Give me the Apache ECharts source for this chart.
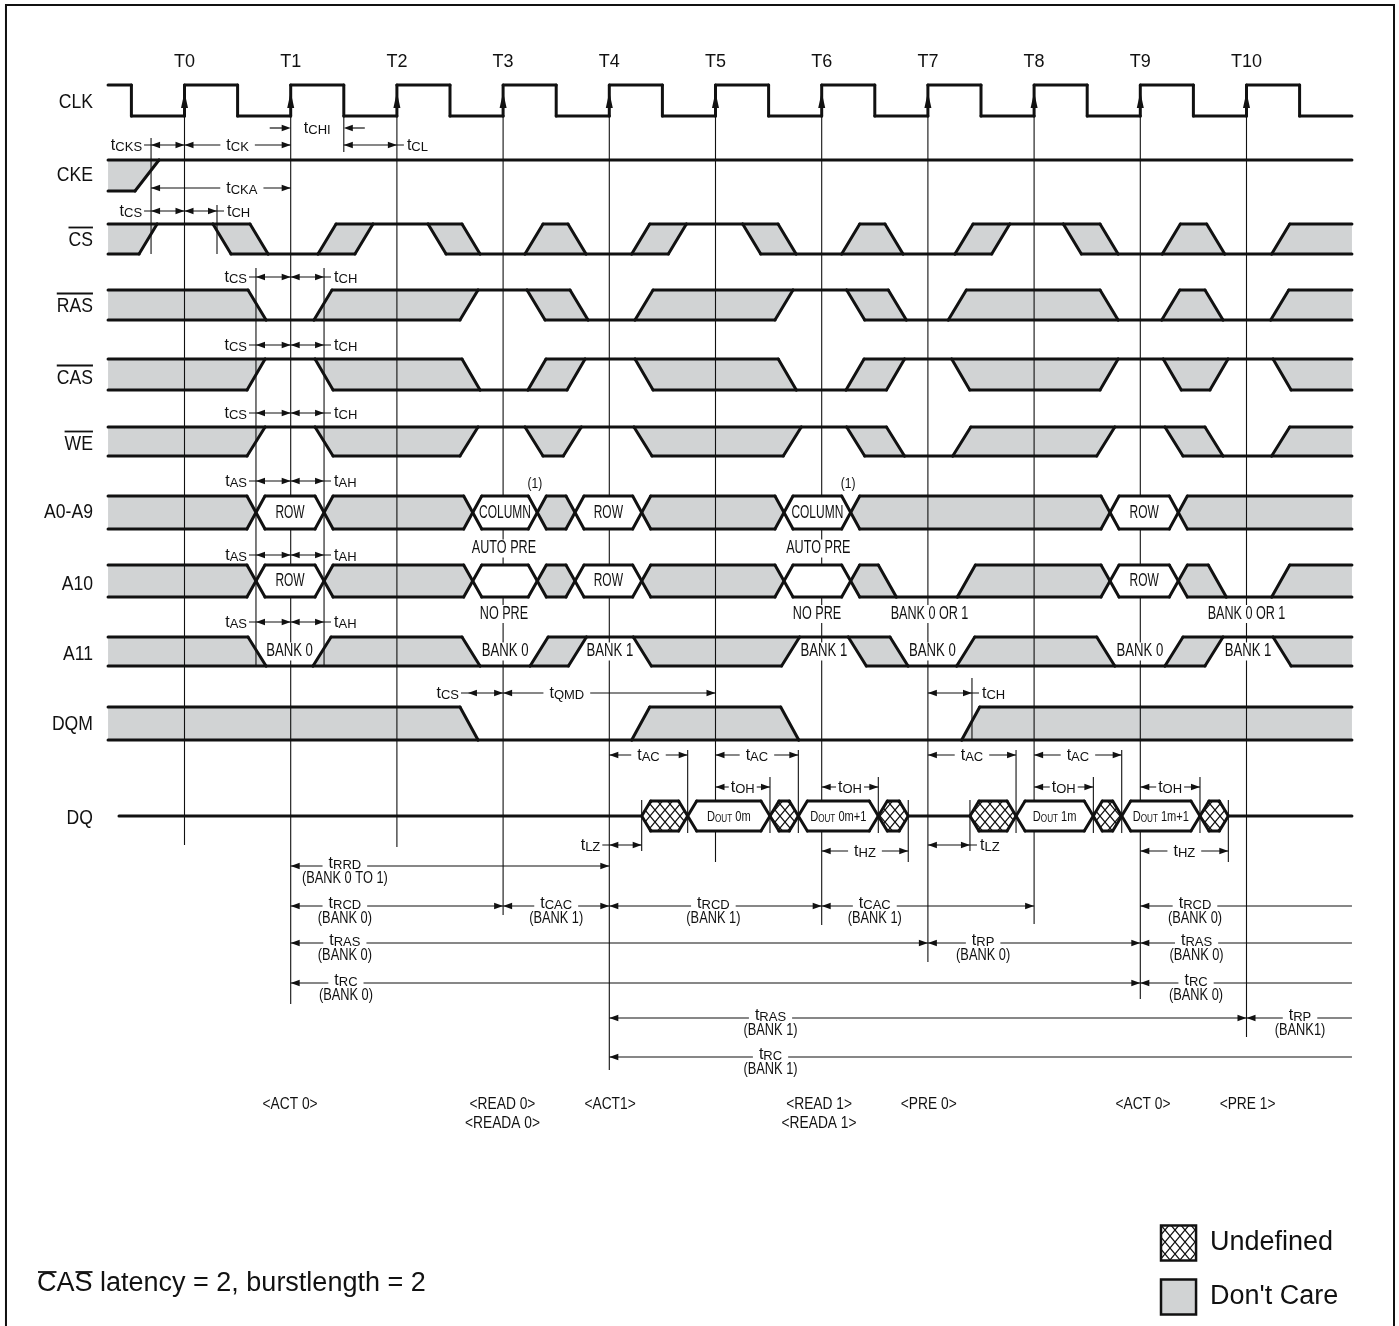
<!DOCTYPE html>
<html>
<head>
<meta charset="utf-8">
<title>Read with auto precharge, two banks</title>
<script src="https://cdn.jsdelivr.net/npm/echarts@6.0.0/dist/echarts.min.js"></script>
<style>
  html, body { margin: 0; padding: 0; background: #fff; }
  #chart { width: 1399px; height: 1326px; }
</style>
</head>
<body>
<div id="chart"></div>
<script>
var FONT = "'Liberation Sans', Arial, Helvetica, sans-serif"
var INK = '#111'
var DONT_CARE = '#d1d3d4'

// x runs in clock periods (T0 = 0), y in rows counted from the top
var X_MIN = -1.7373
var X_MAX = 11.436
var Y_MAX = 1326
var X_START = -0.72
var X_END = 10.993
var NAME_X = -0.862

var clockNames = ['T0', 'T1', 'T2', 'T3', 'T4', 'T5', 'T6', 'T7', 'T8', 'T9', 'T10']
var clockTimes = [0, 1, 2, 3, 4, 5, 6, 7, 8, 9, 10]
var clockGuideEnd = [845, 1004, 847, 915, 1070, 862, 925, 962, 924, 999, 1037]

var signalNames = ['CLK', 'CKE', 'CS', 'RAS', 'CAS', 'WE', 'A0-A9', 'A10', 'A11', 'DQM', 'DQ']
var signalBar = [false, false, true, true, true, true, false, false, false, false, false]
var signalNameY = [102, 175, 240, 306, 378, 444, 512, 584, 654, 724, 818]
var rowHigh = [85, 160, 224, 290, 359, 427, 496, 565, 637, 707, 801]
var rowLow = [116, 191, 254, 320, 390, 456, 529, 597, 666, 740, 831]

// states: H high, L low, X don't care, V valid, U undefined, Z high-z
var clkStates = 'HLHLHLHLHLHLHLHLHLHLHLHL'
var clkTimes = [-0.5, 0, 0.5, 1, 1.5, 2, 2.5, 3, 3.5, 4, 4.5, 5, 5.5, 6, 6.5, 7, 7.5, 8, 8.5, 9, 9.5, 10, 10.5]
var ckeStates = 'XH'
var ckeTimes = [-0.466]
var csStates = 'XHXLXHXLXLXHXLXLXHXLXLX'
var csTimes = [-0.428, 0.268, 0.617, 1.257, 1.605, 2.293, 2.613, 3.206, 3.611, 4.211, 4.556, 5.256, 5.589, 6.188, 6.596, 7.255, 7.601, 8.275, 8.621, 9.207, 9.625, 10.237]
var rasStates = 'XLXHXLXHXLXLXLX'
var rasTimes = [0.598, 1.219, 2.594, 3.225, 3.630, 4.242, 5.560, 6.235, 6.627, 7.192, 8.621, 9.202, 9.609, 10.228]
var casStates = 'XHXLXHXLXHXHXHX'
var casTimes = [0.589, 1.229, 2.613, 3.234, 3.602, 4.242, 5.591, 6.229, 6.610, 7.224, 8.621, 9.216, 9.656, 10.250]
var weStates = 'XHXHXHXHXLXHXLX'
var weTimes = [0.589, 1.229, 2.594, 3.206, 3.567, 4.232, 5.638, 6.235, 6.610, 7.234, 8.590, 9.232, 9.609, 10.237]
var addrStates = 'XVXVXVXVXVX'
var addrTimes = [0.673, 1.314, 2.714, 3.322, 3.677, 4.305, 5.645, 6.273, 8.715, 9.358]
var addrLabels = ['', 'ROW', '', 'COLUMN', '', 'ROW', '', 'COLUMN', '', 'ROW', '']
var a10States = 'XVXVXVXVXLXVXLX'
var a10Times = [0.673, 1.314, 2.714, 3.322, 3.677, 4.305, 5.645, 6.273, 6.533, 7.277, 8.715, 9.358, 9.640, 10.237]
var a10Labels = ['', 'ROW', '', '', '', 'ROW', '', '', '', '', '', 'ROW', '', '', '']
var a11States = 'XLXLXHXHXLXLXHX'
var a11Times = [0.598, 1.210, 2.613, 3.254, 3.615, 4.226, 5.622, 6.250, 6.643, 7.271, 8.590, 9.232, 9.609, 10.250]
var a11Labels = ['', 'BANK 0', '', 'BANK 0', '', 'BANK 1', '', 'BANK 1', '', 'BANK 0', '', 'BANK 0', '', 'BANK 1', '']
var dqmStates = 'XLXLX'
var dqmTimes = [2.594, 4.211, 5.614, 7.318]
var dqStates = 'ZUVUVUZUVUVUZ'
var dqTimes = [4.305, 4.738, 5.513, 5.780, 6.533, 6.815, 7.396, 7.830, 8.557, 8.825, 9.562, 9.829]
var dqLabels = ['', '', 'DOUT 0m', '', 'DOUT 0m+1', '', '', '', 'DOUT 1m', '', 'DOUT 1m+1', '', '']

// thin reference ticks: x, top, bottom
var markerX = [-0.315, 0.306, 1.5, 0.673, 1.314, 7.415, 4.738, 5.780, 5.513, 6.533, 4.305, 6.815, 7.396, 7.830, 8.825, 8.558, 9.562, 9.829]
var markerTop = [138, 205, 116, 268, 268, 678, 750, 750, 777, 777, 800, 800, 800, 750, 750, 777, 777, 800]
var markerBottom = [254, 254, 152, 666, 666, 740, 833, 833, 833, 833, 851, 862, 851, 833, 833, 833, 833, 862]

// [y, from, to, parameter, label side, heads, label x, bank]
var clockDims = [
  [145, -0.315, 0, 'CKS', 'l', 'lr'],
  [145, 0, 1, 'CK', 'm', 'lr'],
  [128, 1, 1.5, 'CHI', 'm', 'in'],
  [145, 1.5, 2, 'CL', 'r', 'lr'],
  [188, -0.315, 1, 'CKA', 'm', 'lr', 0.54],
  [211, -0.315, 0, 'CS', 'l', 'lr'],
  [211, 0, 0.306, 'CH', 'r', 'lr']
]
var setupDims = [
  [277, 0.673, 1, 'CS', 'l', 'lr'], [277, 1, 1.314, 'CH', 'r', 'lr'],
  [345, 0.673, 1, 'CS', 'l', 'lr'], [345, 1, 1.314, 'CH', 'r', 'lr'],
  [413, 0.673, 1, 'CS', 'l', 'lr'], [413, 1, 1.314, 'CH', 'r', 'lr'],
  [481, 0.673, 1, 'AS', 'l', 'lr'], [481, 1, 1.314, 'AH', 'r', 'lr'],
  [555, 0.673, 1, 'AS', 'l', 'lr'], [555, 1, 1.314, 'AH', 'r', 'lr'],
  [622, 0.673, 1, 'AS', 'l', 'lr'], [622, 1, 1.314, 'AH', 'r', 'lr']
]
var dataDims = [
  [693, 2.669, 3, 'CS', 'l', 'lr'],
  [693, 3, 5, 'QMD', 'm', 'lr', 3.6],
  [693, 7, 7.415, 'CH', 'r', 'lr'],
  [755, 4, 4.738, 'AC', 'm', 'lr'],
  [755, 5, 5.780, 'AC', 'm', 'lr'],
  [787, 5, 5.513, 'OH', 'm', 'lr'],
  [787, 6, 6.533, 'OH', 'm', 'lr'],
  [845, 4, 4.305, 'LZ', 'l', 'lr'],
  [851, 6, 6.815, 'HZ', 'm', 'lr'],
  [755, 7, 7.830, 'AC', 'm', 'lr'],
  [755, 8, 8.825, 'AC', 'm', 'lr'],
  [787, 8, 8.558, 'OH', 'm', 'lr'],
  [787, 9, 9.562, 'OH', 'm', 'lr'],
  [845, 7, 7.396, 'LZ', 'r', 'lr'],
  [851, 9, 9.829, 'HZ', 'm', 'lr']
]
var cycleDims = [
  [866, 1, 4, 'RRD', 'm', 'lr', 1.51, '(BANK 0 TO 1)'],
  [906, 1, 3, 'RCD', 'm', 'lr', 1.51, '(BANK 0)'],
  [906, 3, 4, 'CAC', 'm', 'lr', 3.5, '(BANK 1)'],
  [906, 4, 6, 'RCD', 'm', 'lr', 4.98, '(BANK 1)'],
  [906, 6, 8, 'CAC', 'm', 'lr', 6.5, '(BANK 1)'],
  [906, 9, 10.993, 'RCD', 'm', 'l', 9.515, '(BANK 0)'],
  [943, 1, 7, 'RAS', 'm', 'lr', 1.51, '(BANK 0)'],
  [943, 7, 9, 'RP', 'm', 'lr', 7.52, '(BANK 0)'],
  [943, 9, 10.993, 'RAS', 'm', 'l', 9.53, '(BANK 0)'],
  [983, 1, 9, 'RC', 'm', 'lr', 1.52, '(BANK 0)'],
  [983, 9, 10.993, 'RC', 'm', 'l', 9.525, '(BANK 0)'],
  [1018, 4, 10, 'RAS', 'm', 'lr', 5.518, '(BANK 1)'],
  [1018, 10, 10.993, 'RP', 'm', 'l', 10.504, '(BANK1)'],
  [1057, 4, 10.993, 'RC', 'm', 'l', 5.518, '(BANK 1)']
]

var noteText = ['(1)', '(1)', 'AUTO PRE', 'AUTO PRE', 'NO PRE', 'NO PRE', 'BANK 0 OR 1', 'BANK 0 OR 1']
var noteX = [3.30, 6.248, 3.008, 5.968, 3.008, 5.956, 7.015, 10.0]
var noteY = [484, 484, 548.5, 548.5, 614, 614, 614, 614]

var cmdNames = ['<ACT 0>', '<READ 0>', '<READA 0>', '<ACT1>', '<READ 1>', '<READA 1>', '<PRE 0>', '<ACT 0>', '<PRE 1>']
var cmdX = [0.994, 2.994, 2.994, 4.007, 5.975, 5.975, 7.008, 9.025, 10.01]
var cmdY = [1105, 1105, 1124, 1105, 1105, 1124, 1105, 1105, 1105]

var legendNames = ['Undefined', "Don't Care"]
var legendKinds = ['U', 'X']
var legendY = [1243, 1297]
var LEGEND_BOX = [9.195, 9.525]
var LEGEND_TEXT_X = 9.656

var FOOT_X = -1.389
var FOOT_Y = 1284
var FRAME = [-1.681, 5, 11.389, 1340]

var signalStates = [clkStates, ckeStates, csStates, rasStates, casStates, weStates, addrStates, a10States, a11States, dqmStates, dqStates]
var signalTimes = [clkTimes, ckeTimes, csTimes, rasTimes, casTimes, weTimes, addrTimes, a10Times, a11Times, dqmTimes, dqTimes]
var signalLabels = [null, null, null, null, null, null, addrLabels, a10Labels, a11Labels, null, dqLabels]
var signalStart = [X_START, X_START, X_START, X_START, X_START, X_START, X_START, X_START, X_START, X_START, -0.617]
var signalSlope = [0.17, 0.226, 0.17, 0.17, 0.17, 0.17, 0.17, 0.17, 0.17, 0.17, 0.17]
var HALF_X = 0.085

function edgeKind(a, b) {
  if (a === 'Z' || b === 'Z') return 'z'
  if (a === 'H' || b === 'L') return 'd'
  if (a === 'L' || b === 'H') return 'u'
  return 'x'
}

// outline, fills and label spots of one trace, still in axis units
function signalGeometry(i) {
  var st = signalStates[i], tm = signalTimes[i], labels = signalLabels[i]
  var hi = rowHigh[i], lo = rowLow[i], mid = (hi + lo) / 2
  var w = signalSlope[i], h = HALF_X, x0 = signalStart[i]
  var lefts = [], rights = [], strokes = []
  lefts[0] = { pts: [[x0, hi], [x0, lo]], mid: [x0, mid] }
  for (var j = 0; j < tm.length; j++) {
    var a = st[j], b = st[j + 1], t = tm[j], L, R
    var k = i === 0 ? 'v' : edgeKind(a, b)
    if (k === 'v') {
      L = R = { pts: [[t, hi], [t, lo]], mid: [t, mid] }
      strokes.push([[t, hi], [t, lo]])
    } else if (k === 'd') {
      L = R = { pts: [[t, hi], [t + w, lo]], mid: [t + w / 2, mid] }
      strokes.push([[t, hi], [t + w, lo]])
    } else if (k === 'u') {
      L = R = { pts: [[t + w, hi], [t, lo]], mid: [t + w / 2, mid] }
      strokes.push([[t, lo], [t + w, hi]])
    } else if (k === 'x') {
      L = { pts: [[t - h, hi], [t, mid], [t - h, lo]], mid: [t, mid] }
      R = { pts: [[t + h, hi], [t, mid], [t + h, lo]], mid: [t, mid] }
      strokes.push([[t - h, hi], [t + h, lo]], [[t - h, lo], [t + h, hi]])
    } else if (a === 'Z') {
      L = { pts: [[t, mid]], mid: [t, mid] }
      R = { pts: [[t + h, hi], [t, mid], [t + h, lo]], mid: [t, mid] }
      strokes.push([[t, mid], [t + h, hi]], [[t, mid], [t + h, lo]])
    } else {
      L = { pts: [[t - h, hi], [t, mid], [t - h, lo]], mid: [t, mid] }
      R = { pts: [[t, mid]], mid: [t, mid] }
      strokes.push([[t - h, hi], [t, mid]], [[t - h, lo], [t, mid]])
    }
    rights[j] = L
    lefts[j + 1] = R
  }
  rights[st.length - 1] = { pts: [[X_END, hi], [X_END, lo]], mid: [X_END, mid] }
  var fills = [], spots = []
  for (var s = 0; s < st.length; s++) {
    var lb = lefts[s], rb = rights[s], c = st[s]
    var lt = lb.pts[0], ll = lb.pts[lb.pts.length - 1]
    var rt = rb.pts[0], rl = rb.pts[rb.pts.length - 1]
    if (c !== 'L' && c !== 'Z') strokes.push([lt, rt])
    if (c !== 'H' && c !== 'Z') strokes.push([ll, rl])
    if (c === 'Z') strokes.push([lb.mid, rb.mid])
    if (c === 'X' || c === 'V' || c === 'U') fills.push({ kind: c, pts: lb.pts.concat(rb.pts.slice().reverse()) })
    if (labels && labels[s]) spots.push({ text: labels[s], x: (lb.mid[0] + rb.mid[0]) / 2, y: mid })
  }
  return { fills: fills, strokes: strokes, spots: spots }
}
var geometry = signalNames.map(function (n, i) { return signalGeometry(i) })

function hatchCanvas() {
  var c = document.createElement('canvas')
  c.width = 10
  c.height = 12
  var g = c.getContext('2d')
  g.fillStyle = '#fff'
  g.fillRect(0, 0, 10, 12)
  g.strokeStyle = INK
  g.lineWidth = 1.2
  g.beginPath()
  g.moveTo(-1, -1.2); g.lineTo(11, 13.2)
  g.moveTo(11, -1.2); g.lineTo(-1, 13.2)
  g.stroke()
  return c
}
var HATCH = { image: hatchCanvas(), repeat: 'repeat' }

var measureCtx = document.createElement('canvas').getContext('2d')
function textWidth(str, size) {
  measureCtx.font = size + 'px ' + FONT
  return measureCtx.measureText(str).width
}

function lineEl(p, q, w) {
  return {
    type: 'line',
    shape: { x1: p[0], y1: p[1], x2: q[0], y2: q[1] },
    style: { stroke: INK, lineWidth: w, lineCap: w > 2 ? 'round' : 'butt' }
  }
}
function arrowEl(p, dir) {
  return {
    type: 'polygon',
    shape: { points: [[p[0], p[1]], [p[0] - dir * 9, p[1] - 3.2], [p[0] - dir * 9, p[1] + 3.2]] },
    style: { fill: INK }
  }
}
function textEl(p, str, o) {
  o = o || {}
  var style = {
    text: str, fill: INK, fontSize: o.size || 16, fontFamily: FONT,
    align: o.align || 'center', verticalAlign: 'middle'
  }
  if (o.rich) style.rich = o.rich
  if (o.bg) { style.backgroundColor = '#fff'; style.padding = o.pad || [0, 2] }
  return { type: 'text', x: p[0], y: p[1], scaleX: o.sx || 1, style: style }
}
function timingText(p, code, align, pad) {
  var tok = { fontFamily: FONT, fill: INK, verticalAlign: 'bottom', lineHeight: 17 }
  return textEl(p, '{t|t}{c|' + code + '}', {
    align: align, bg: pad != null, pad: [0, pad || 0],
    rich: {
      t: Object.assign({ fontSize: 16 }, tok),
      c: Object.assign({ fontSize: 13 }, tok)
    }
  })
}

function renderDim(d, api) {
  var y = d[0], a = d[1], b = d[2], code = d[3], side = d[4], heads = d[5], lx = d[6], sub = d[7]
  var A = api.coord([a, y]), B = api.coord([b, y])
  var py = A[1], ch = []
  if (heads === 'in') {
    ch.push(lineEl([A[0] - 21, py], [A[0] - 4, py], 1.2), arrowEl([A[0], py], 1))
    ch.push(lineEl([B[0] + 4, py], [B[0] + 21, py], 1.2), arrowEl([B[0], py], -1))
    ch.push(timingText([(A[0] + B[0]) / 2, py], code, 'center'))
    return ch
  }
  var x1 = side === 'l' ? A[0] - 7 : A[0]
  var x2 = side === 'r' ? B[0] + 7 : B[0]
  ch.push(lineEl([x1, py], [x2, py], 1.2))
  if (heads.indexOf('l') >= 0) ch.push(arrowEl(A, -1))
  if (heads.indexOf('r') >= 0) ch.push(arrowEl(B, 1))
  if (side === 'l') {
    ch.push(timingText([A[0] - 9, py], code, 'right'))
  } else if (side === 'r') {
    ch.push(timingText([B[0] + 10, py], code, 'left'))
  } else {
    var c = api.coord([lx != null ? lx : (a + b) / 2, y])
    var pad = B[0] - A[0] < 70 ? 2 : 6
    ch.push(timingText([c[0], py - (sub ? 3 : 0)], code, 'center', pad))
    if (sub) ch.push(textEl([c[0], py + 13], sub, { size: 16, sx: 0.8, bg: true, pad: [0, 2] }))
  }
  return ch
}

function spotLabel(i, spot, api) {
  var p = api.coord([spot.x, spot.y])
  if (i === 10) {
    var sizes = { fontFamily: FONT, fill: INK, verticalAlign: 'bottom', lineHeight: 16 }
    return textEl(p, '{b|D}{s|OUT}{b|' + spot.text.slice(4) + '}', {
      sx: 0.74,
      rich: { b: Object.assign({ fontSize: 15 }, sizes), s: Object.assign({ fontSize: 11 }, sizes) }
    })
  }
  if (i === 8) return textEl(p, spot.text, { size: 18, sx: 0.73, bg: true, pad: [0, 1] })
  return textEl(p, spot.text, { size: 19, sx: 0.63 })
}

function group(ch) { return { type: 'group', children: ch } }
function rowsOf(arr) { return arr.map(function (v, i) { return [i, v] }) }

var base = {
  type: 'custom', coordinateSystem: 'cartesian2d', silent: true, animation: false
}
function layer(z, data, fn) {
  return Object.assign({}, base, { z: z, data: data, renderItem: fn })
}

var chart = echarts.init(document.getElementById('chart'), null, { renderer: 'canvas' })
chart.setOption({
  animation: false,
  backgroundColor: '#fff',
  grid: { left: 0, right: 0, top: 0, bottom: 0 },
  xAxis: { type: 'value', min: X_MIN, max: X_MAX, show: false },
  yAxis: { type: 'value', min: 0, max: Y_MAX, inverse: true, show: false },
  series: [
    // frame and footnote
    layer(1, [[0, 0]], function (params, api) {
      var p = api.coord([FRAME[0], FRAME[1]]), q = api.coord([FRAME[2], FRAME[3]])
      var f = api.coord([FOOT_X, FOOT_Y])
      var wc = textWidth('C', 27), wca = textWidth('CA', 27), wcas = textWidth('CAS', 27)
      return group([
        { type: 'rect', shape: { x: p[0], y: p[1], width: q[0] - p[0], height: q[1] - p[1] },
          style: { fill: 'none', stroke: INK, lineWidth: 2 } },
        textEl(f, 'CAS latency = 2, burstlength = 2', { size: 27, align: 'left' }),
        lineEl([f[0] + 1, f[1] - 12], [f[0] + wc, f[1] - 12], 1.8),
        lineEl([f[0] + wca + 1, f[1] - 12], [f[0] + wcas, f[1] - 12], 1.8)
      ])
    }),
    // don't-care bands
    layer(2, rowsOf(rowHigh), function (params, api) {
      return group(geometry[params.dataIndex].fills.filter(function (f) { return f.kind === 'X' }).map(function (f) {
        return { type: 'polygon', shape: { points: f.pts.map(function (pt) { return api.coord(pt) }) },
          style: { fill: DONT_CARE } }
      }))
    }),
    // clock edge guides
    layer(3, rowsOf(clockTimes), function (params, api) {
      var i = params.dataIndex
      return lineEl(api.coord([clockTimes[i], rowHigh[0]]), api.coord([clockTimes[i], clockGuideEnd[i]]), 1.1)
    }),
    // reference ticks
    layer(3, rowsOf(markerX), function (params, api) {
      var i = params.dataIndex
      return lineEl(api.coord([markerX[i], markerTop[i]]), api.coord([markerX[i], markerBottom[i]]), 1.1)
    }),
    // valid and undefined cells
    layer(4, rowsOf(rowHigh), function (params, api) {
      return group(geometry[params.dataIndex].fills.filter(function (f) { return f.kind !== 'X' }).map(function (f) {
        return { type: 'polygon', shape: { points: f.pts.map(function (pt) { return api.coord(pt) }) },
          style: { fill: f.kind === 'U' ? HATCH : '#fff' } }
      }))
    }),
    // traces
    layer(5, rowsOf(rowHigh), function (params, api) {
      var i = params.dataIndex, g = geometry[i]
      var ch = g.strokes.map(function (s) { return lineEl(api.coord(s[0]), api.coord(s[1]), 3) })
      g.spots.forEach(function (s) { ch.push(spotLabel(i, s, api)) })
      return group(ch)
    }),
    // rising edge arrows
    layer(6, rowsOf(clockTimes), function (params, api) {
      var t = api.coord([clockTimes[params.dataIndex], 92]), b = api.coord([clockTimes[params.dataIndex], 108])
      return { type: 'polygon', shape: { points: [t, [b[0] - 3.5, b[1]], [b[0] + 3.5, b[1]]] }, style: { fill: INK } }
    }),
    // timing parameters
    layer(7, rowsOf(clockDims), function (params, api) { return group(renderDim(clockDims[params.dataIndex], api)) }),
    layer(7, rowsOf(setupDims), function (params, api) { return group(renderDim(setupDims[params.dataIndex], api)) }),
    layer(7, rowsOf(dataDims), function (params, api) { return group(renderDim(dataDims[params.dataIndex], api)) }),
    layer(7, rowsOf(cycleDims), function (params, api) { return group(renderDim(cycleDims[params.dataIndex], api)) }),
    // signal names
    layer(8, rowsOf(signalNameY), function (params, api) {
      var i = params.dataIndex
      var p = api.coord([NAME_X, signalNameY[i]])
      var ch = [textEl(p, signalNames[i], { size: 20, sx: 0.88, align: 'right' })]
      if (signalBar[i]) {
        var w = textWidth(signalNames[i], 20) * 0.88
        ch.push(lineEl([p[0] - w, p[1] - 12.5], [p[0], p[1] - 12.5], 1.8))
      }
      return group(ch)
    }),
    // clock names
    layer(8, rowsOf(clockTimes), function (params, api) {
      var i = params.dataIndex
      return textEl(api.coord([clockTimes[i], 62]), clockNames[i], { size: 18 })
    }),
    // notes on the address lines
    layer(8, rowsOf(noteX), function (params, api) {
      var i = params.dataIndex, p = api.coord([noteX[i], noteY[i]])
      if (noteText[i] === '(1)') return textEl(p, '(1)', { size: 14, sx: 0.86 })
      return textEl(p, noteText[i], { size: 18, sx: 0.7, bg: true, pad: [0, 1] })
    }),
    // commands
    layer(8, rowsOf(cmdX), function (params, api) {
      var i = params.dataIndex
      return textEl(api.coord([cmdX[i], cmdY[i]]), cmdNames[i], { size: 16, sx: 0.86 })
    }),
    // legend
    layer(8, rowsOf(legendY), function (params, api) {
      var i = params.dataIndex
      var p = api.coord([LEGEND_BOX[0], legendY[i] - 17.5]), q = api.coord([LEGEND_BOX[1], legendY[i] + 17.5])
      return group([
        { type: 'rect', shape: { x: p[0], y: p[1], width: q[0] - p[0], height: q[1] - p[1] },
          style: { fill: legendKinds[i] === 'U' ? HATCH : DONT_CARE, stroke: INK, lineWidth: 2.5 } },
        textEl(api.coord([LEGEND_TEXT_X, legendY[i]]), legendNames[i], { size: 27, align: 'left' })
      ])
    })
  ]
})
</script>
</body>
</html>
